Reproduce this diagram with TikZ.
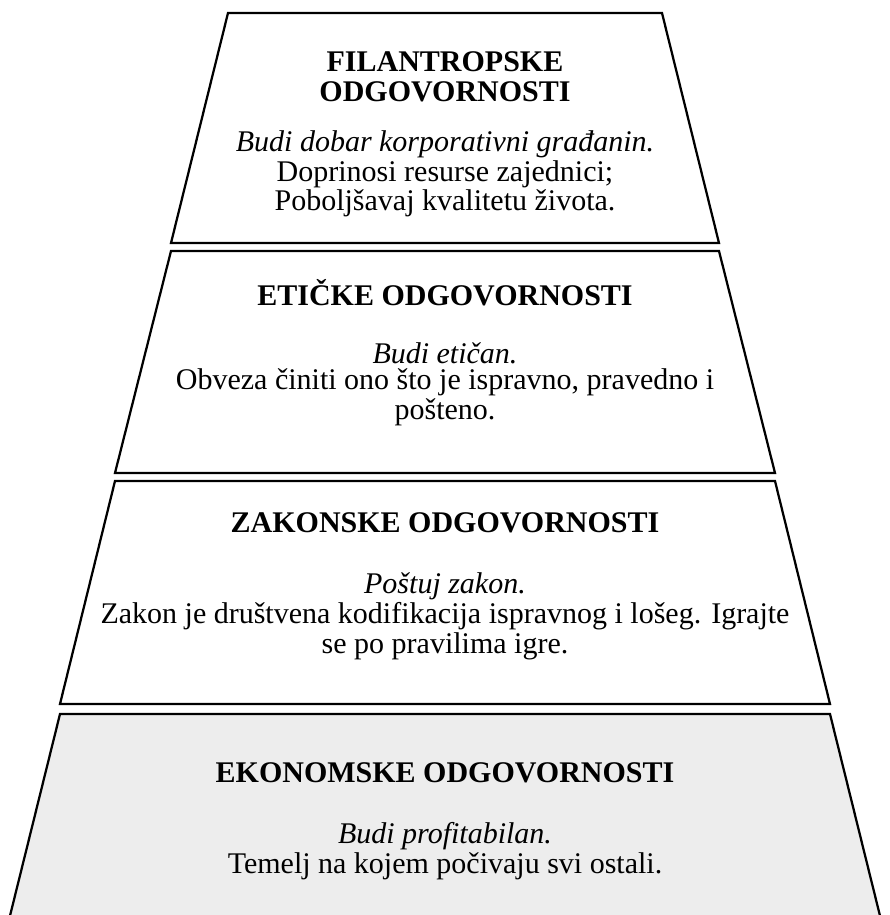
\documentclass[tikz,border=0pt]{standalone}
\usepackage{fontspec}
\setmainfont{Liberation Serif}
\usepackage{tikz}
\definecolor{basegray}{HTML}{EDEDED}

\begin{document}
\begin{tikzpicture}[x=0.4pt,y=-0.4pt,line width=0.9pt,
    heading/.style={font=\fontsize{12}{12.2}\selectfont\bfseries,align=center},
    body/.style={font=\fontsize{12}{10.6}\selectfont,align=center}]

\useasboundingbox (0,0) rectangle (890,915);
\clip (0,0) rectangle (890,915);
\foreach \ya/\yb/\wa/\wb/\fc in {13/243/217/274/white, 251/473/274/330/white, 481/704/330/385/white, 714/940/385/441/basegray}
    \filldraw[fill=\fc] (445-\wa,\ya) -- (445+\wa,\ya) -- (445+\wb,\yb) -- (445-\wb,\yb) -- cycle;

\node[heading] (filtitle) at (445,77) {FILANTROPSKE\\ODGOVORNOSTI};
\node[body] (filtext) at (445,174) {\textit{Budi dobar korporativni građanin.}\\Doprinosi resurse zajednici;\\Poboljšavaj kvalitetu života.};
\node[heading] (ettitle) at (445,293) {ETIČKE ODGOVORNOSTI};
\node[body] (ettext) at (445,384) {\textit{Budi etičan.}\\Obveza činiti ono što je ispravno, pravedno i\\pošteno.};
\node[heading] (zaktitle) at (445,523) {ZAKONSKE ODGOVORNOSTI};
\node[body] (zaktext) at (445,616) {\textit{Poštuj zakon.}\\Zakon je društvena kodifikacija ispravnog i lošeg. Igrajte\\se po pravilima igre.};
\node[heading] (ekotitle) at (445,773) {EKONOMSKE ODGOVORNOSTI};
\node[body] (ekotext) at (445,851) {\textit{Budi profitabilan.}\\Temelj na kojem počivaju svi ostali.};
%%\draw[step=50,gray!40,very thin] (0,0) grid (890,915);
\end{tikzpicture}
\end{document}
